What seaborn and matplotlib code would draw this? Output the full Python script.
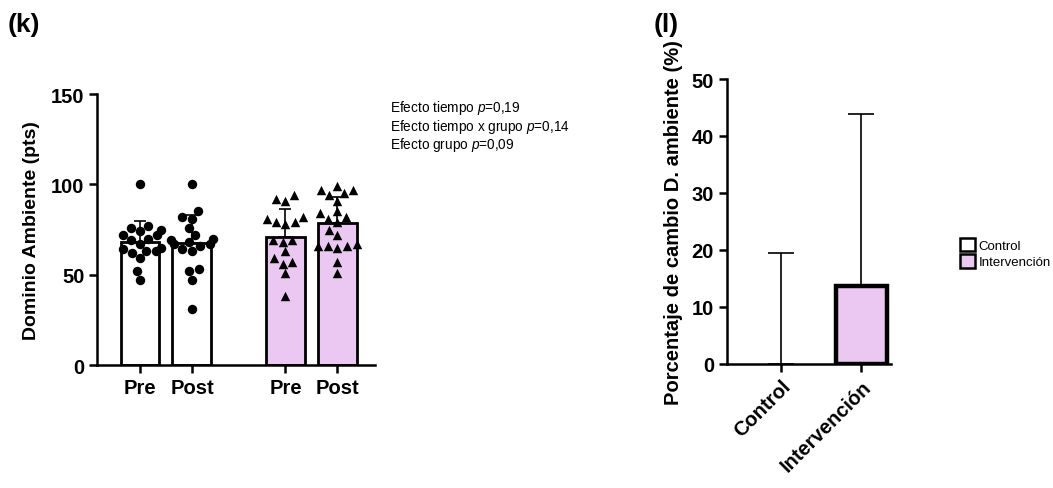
import numpy as np
import pandas as pd
import matplotlib
matplotlib.use("Agg")
import matplotlib.pyplot as plt
from matplotlib.patches import Patch
import seaborn as sns

# ---- data ----
control_pre = [100, 77, 76, 75, 74, 72, 72, 70, 69, 67, 65, 64, 63, 63, 62, 59, 52, 47]
control_post = [100, 85, 82, 81, 76, 72, 70, 69, 68, 67, 67, 66, 64, 63, 53, 52, 47, 31]
interv_pre = [94, 92, 91, 82, 81, 79, 79, 78, 69, 69, 68, 63, 59, 57, 56, 51, 38]
interv_post = [99, 97, 97, 95, 94, 91, 85, 84, 82, 81, 79, 75, 72, 67, 66, 66, 66, 65, 57, 51]
time_labels = ["Pre", "Post", "Pre", "Post"]

change_groups = ["Control", "Intervención"]
change_mean = [0.0, 13.7]
change_sd = [19.5, 30.1]

effects = [("Efecto tiempo", "0,19"),
           ("Efecto tiempo x grupo", "0,14"),
           ("Efecto grupo", "0,09")]

LAVENDER = "#EBC8F2"

sns.set_style("ticks")
plt.rcParams["font.family"] = ["Liberation Sans", "DejaVu Sans"]
plt.rcParams["mathtext.fontset"] = "custom"
plt.rcParams["mathtext.rm"] = "Liberation Sans"
plt.rcParams["mathtext.it"] = "Liberation Sans:italic"
for key in ("text.color", "axes.labelcolor", "xtick.color", "ytick.color", "axes.edgecolor"):
    plt.rcParams[key] = "black"

fig = plt.figure(figsize=(10.53, 4.89), dpi=100)

# ---- panel (k): scores per group and time ----
ax1 = fig.add_axes([0.092, 0.2515, 0.264, 0.5542])
positions = [0.0, 1.0, 2.8, 3.8]
series = [control_pre, control_post, interv_pre, interv_post]
groups = ["Control", "Control", "Intervención", "Intervención"]
rows = []
for pos, vals, grp in zip(positions, series, groups):
    for v in vals:
        rows.append({"pos": pos, "value": v, "group": grp})
df = pd.DataFrame(rows)

for grp, fill in [("Control", "white"), ("Intervención", LAVENDER)]:
    sub = df[df["group"] == grp]
    sns.barplot(data=sub, x="pos", y="value", native_scale=True, errorbar=None,
                color=fill, saturation=1, edgecolor="black", linewidth=2.0,
                width=0.75, ax=ax1, zorder=1)

means = [np.mean(v) for v in series]
sds = [np.std(v, ddof=1) for v in series]
ax1.errorbar(positions, means, yerr=[[0] * 4, sds], fmt="none", ecolor="black",
             elinewidth=1.2, capsize=4, capthick=1.2, zorder=2)

for grp, marker in [("Control", "o"), ("Intervención", "^")]:
    sub = df[df["group"] == grp]
    sns.swarmplot(data=sub, x="pos", y="value", native_scale=True, marker=marker,
                  color="black", size=6.8, linewidth=0, ax=ax1, zorder=3)

ax1.set_xlim(-0.83, 4.52)
ax1.set_ylim(0, 150)
ax1.set_yticks([0, 50, 100, 150])
ax1.set_xticks(positions)
ax1.set_xticklabels(time_labels)
ax1.set_xlabel("")
ax1.set_ylabel("Dominio Ambiente (pts)", fontsize=14, fontweight="bold", labelpad=8)

# ---- panel (l): percentage change ----
ax2 = fig.add_axes([0.690, 0.2536, 0.156, 0.5828])
sns.barplot(x=change_groups, y=change_mean, hue=change_groups,
            palette={"Control": "white", "Intervención": LAVENDER},
            saturation=1, edgecolor="black", linewidth=3.2, width=0.64,
            legend=False, ax=ax2, zorder=1)
for patch in ax2.patches:
    if patch.get_height() == 0:
        patch.set_linewidth(0)
ax2.errorbar([0, 1], change_mean, yerr=[[0, 0], change_sd], fmt="none",
             ecolor="black", elinewidth=1.2, capsize=9.5, capthick=1.2, zorder=0.5)
ax2.set_xlim(-0.68, 1.37)
ax2.set_ylim(0, 50)
ax2.set_yticks(range(0, 51, 10))
ax2.set_xticks([0, 1])
ax2.set_xticklabels(change_groups, rotation=45, ha="right", rotation_mode="anchor")
ax2.set_ylabel("Porcentaje de cambio D. ambiente (%)", fontsize=14.5,
               fontweight="bold", labelpad=6)

for ax in (ax1, ax2):
    sns.despine(ax=ax)
    for side in ("left", "bottom"):
        ax.spines[side].set_linewidth(1.8)
        ax.spines[side].set_color("black")
    ax.tick_params(axis="both", width=1.8, length=6, color="black",
                   labelsize=14.5, pad=3)
    for lab in ax.get_xticklabels() + ax.get_yticklabels():
        lab.set_fontweight("bold")
    ax.set_facecolor("none")

# effect annotations
for i, (name, pval) in enumerate(effects):
    fig.text(390 / 1053, 1 - (108 + 18.5 * i) / 489, f"{name} $p$={pval}",
             fontsize=9.8, va="center", ha="left")

# panel letters
fig.text(8 / 1053, 1 - 25 / 489, "(k)", fontsize=19, fontweight="bold", va="center")
fig.text(654 / 1053, 1 - 25 / 489, "(l)", fontsize=19, fontweight="bold", va="center")

# legend
handles = [Patch(facecolor="white", edgecolor="black", linewidth=1.8, label="Control"),
           Patch(facecolor=LAVENDER, edgecolor="black", linewidth=1.8, label="Intervención")]
fig.legend(handles=handles, loc="center left", bbox_to_anchor=(953 / 1053, 1 - 254 / 489),
           frameon=False, fontsize=9.5, handlelength=1.2, handleheight=1.2,
           handletextpad=0.25, labelspacing=0.15, borderpad=0)

fig.savefig("out.png", dpi=100)
